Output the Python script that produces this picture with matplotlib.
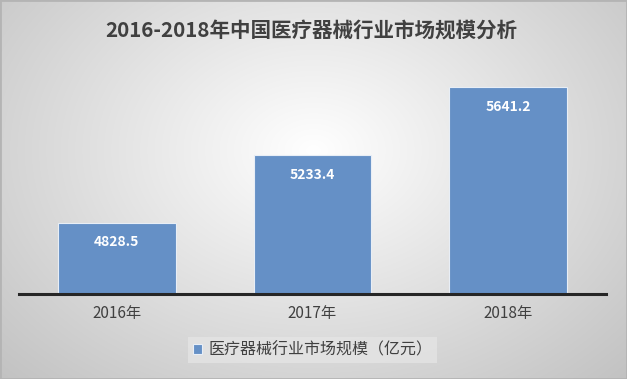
import numpy as np
import matplotlib
matplotlib.use('Agg')
import matplotlib.pyplot as plt

plt.rcParams['font.family'] = ['Noto Sans CJK SC', 'DejaVu Sans']

years = ['2016年', '2017年', '2018年']
market_size = [4828.5, 5233.4, 5641.2]
series_name = '医疗器械行业市场规模（亿元）'
title = '2016-2018年中国医疗器械行业市场规模分析'

bar_color = '#6590c6'
text_color = '#404040'

fig = plt.figure(figsize=(6.27, 3.79), dpi=100)

# gray radial background
bg = fig.add_axes([0, 0, 1, 1], zorder=0)
yy, xx = np.mgrid[0:379, 0:627]
r = np.sqrt(((xx - 313) / 313.0) ** 2 + ((yy - 150) / 230.0) ** 2)
shade = np.clip(1 - 0.17 * r, 0, 1)
bg.imshow(np.dstack([shade] * 3), aspect='auto', extent=[0, 1, 0, 1], origin='upper')
bg.plot([0, 1, 1, 0, 0], [0, 0, 1, 1, 0], color='#b4b4b4', lw=2)
bg.set_xlim(0, 1)
bg.set_ylim(0, 1)
bg.axis('off')

ax = fig.add_axes([19 / 627, 1 - 294 / 379, 587 / 627, 233 / 379], zorder=1)
ax.patch.set_alpha(0)
x = np.arange(len(years))
bars = ax.bar(x, market_size, width=0.6, bottom=0, color=bar_color,
              edgecolor='#e8eef6', linewidth=0.8)
ax.set_ylim(4400, 5800)
ax.set_xlim(-0.5, 2.5)

for rect, v in zip(bars, market_size):
    ax.annotate('{}'.format(v), xy=(rect.get_x() + rect.get_width() / 2, v),
                xytext=(0, -14), textcoords='offset points', ha='center', va='center',
                color='white', fontsize=10, fontweight='bold', zorder=3)

for side in ['left', 'right', 'top']:
    ax.spines[side].set_visible(False)
ax.spines['bottom'].set_color('#262626')
ax.spines['bottom'].set_linewidth(2.2)
ax.set_yticks([])
ax.set_xticks(x)
ax.set_xticklabels(years, fontsize=11, color=text_color)
ax.tick_params(axis='x', length=0, pad=8)

fig.text(0.497, 1 - 30 / 379, title, ha='center', va='center', fontsize=14.8,
         fontweight='bold', color=text_color)

leg = ax.legend([bars[0]], [series_name], loc='center', bbox_to_anchor=(0.5, (294 - 350) / 233),
                frameon=True, fontsize=11.5, handlelength=0.6, handleheight=0.6,
                handletextpad=0.4, borderpad=0.3, fancybox=False)
leg.get_frame().set_facecolor('#e4e4e4')
leg.get_frame().set_edgecolor('none')
for t in leg.get_texts():
    t.set_color(text_color)

fig.savefig('out.png', dpi=100)
